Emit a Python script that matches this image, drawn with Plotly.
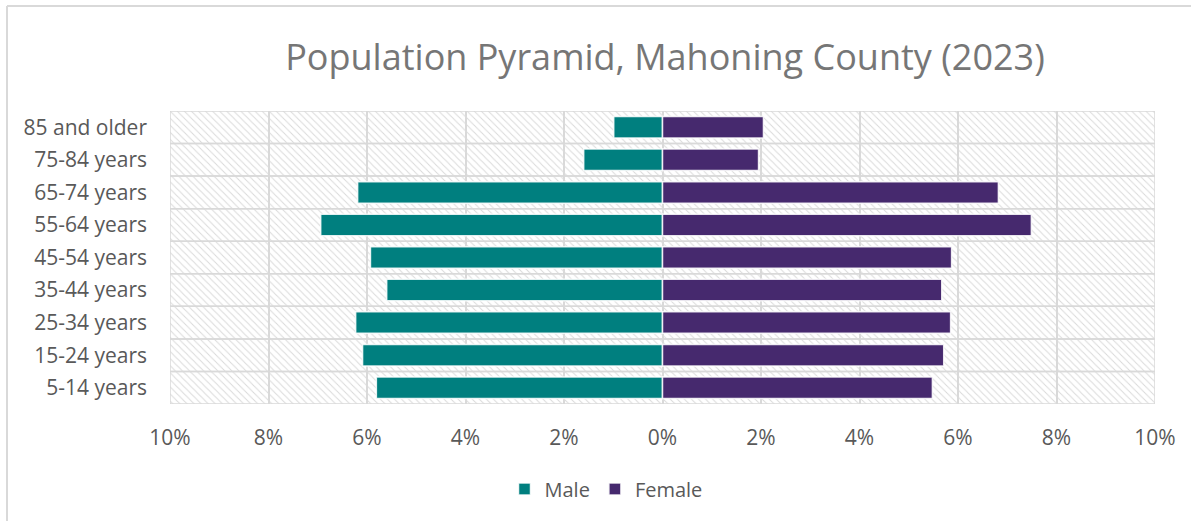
import plotly.graph_objects as go

ages = ["85 and older", "75-84 years", "65-74 years", "55-64 years", "45-54 years",
        "35-44 years", "25-34 years", "15-24 years", "5-14 years"]
male = [0.99, 1.60, 6.19, 6.94, 5.93, 5.60, 6.23, 6.09, 5.81]
female = [2.05, 1.95, 6.82, 7.49, 5.87, 5.67, 5.85, 5.71, 5.48]
tick_vals = [-10, -8, -6, -4, -2, 0, 2, 4, 6, 8, 10]
tick_text = ["10%", "8%", "6%", "4%", "2%", "0%", "2%", "4%", "6%", "8%", "10%"]

FONT = "Open Sans"
L, R, T, B = 170, 36, 111, 117
W, H = 1191, 521
pw, ph = W - L - R, H - T - B

fig = go.Figure()

# hatched plot-area background (one full-width band per category)
fig.add_trace(go.Bar(
    y=ages, x=[tick_vals[-1] - tick_vals[0]] * len(ages), base=tick_vals[0],
    orientation="h", width=1, showlegend=False, hoverinfo="skip",
    marker=dict(color="#dadada",
                line=dict(color="#d9d9d9", width=1.5),
                pattern=dict(shape="\\", size=5, solidity=0.2, fillmode="replace")),
))

fig.add_trace(go.Bar(
    y=ages, x=[-v for v in male], orientation="h", name="Male",
    marker=dict(color="#007F7F", line=dict(color="rgba(255,255,255,0.85)", width=1.5)),
    customdata=male, hovertemplate="%{y}: %{customdata}%<extra>Male</extra>",
))
fig.add_trace(go.Bar(
    y=ages, x=female, orientation="h", name="Female",
    marker=dict(color="#46296E", line=dict(color="rgba(255,255,255,0.85)", width=1.5)),
    hovertemplate="%{y}: %{x}%<extra>Female</extra>",
))

fig.update_layout(
    width=W, height=H,
    margin=dict(l=L, r=R, t=T, b=B),
    barmode="overlay", bargap=0.34,
    plot_bgcolor="white", paper_bgcolor="white",
    font=dict(family=FONT, color="#595959", size=21),
    title=dict(text="Population Pyramid, Mahoning County (2023)",
               x=(665 - L) / pw, xref="paper", xanchor="center",
               y=1 - 57 / H, yanchor="middle",
               font=dict(family=FONT, size=36, color="#767676")),
    legend=dict(orientation="h", x=(606 - L) / pw, xanchor="center",
                y=-(489 - (T + ph)) / ph, yanchor="middle",
                font=dict(size=20, color="#595959"), traceorder="normal",
                itemwidth=30),
    xaxis=dict(range=[tick_vals[0], tick_vals[-1]], tickvals=tick_vals, ticktext=tick_text,
               showgrid=True, gridcolor="#d9d9d9", gridwidth=1.5, zeroline=False,
               showline=False, ticklabelstandoff=19, fixedrange=True),
    yaxis=dict(autorange="reversed", showgrid=False, zeroline=False, showline=False,
               ticklabelstandoff=22, fixedrange=True),
    shapes=[
        dict(type="line", xref="paper", yref="paper",
             x0=(7 - L) / pw, x1=(7 - L) / pw, y0=(T + ph - 6) / ph, y1=-1,
             line=dict(color="#d9d9d9", width=2)),
        dict(type="line", xref="paper", yref="paper",
             x0=(7 - L) / pw, x1=1.5, y0=(T + ph - 6) / ph, y1=(T + ph - 6) / ph,
             line=dict(color="#d9d9d9", width=2)),
    ],
)

fig.write_html("out.html", config={"displayModeBar": False},
               post_script="document.body.style.margin='0px';")
